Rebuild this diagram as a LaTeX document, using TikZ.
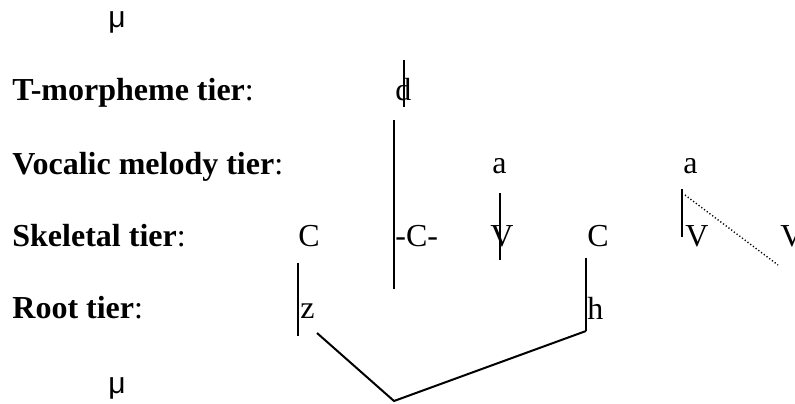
\documentclass[tikz,border=0pt]{standalone}
\usepackage{fontspec}
\setmainfont{Liberation Serif}
\newfontfamily\musans{Liberation Sans}
\usetikzlibrary{positioning}
\tikzset{
  tier/.style={anchor=base west, inner sep=0pt, font=\fontsize{16}{18}\selectfont},
  seg/.style={anchor=base west, inner sep=0pt, font=\fontsize{16}{18}\selectfont},
  mora/.style={anchor=base west, inner sep=0pt, font=\musans\fontsize{15}{18}\selectfont},
  assoc/.style={line width=1pt},
  spread/.style={line width=0.7pt, dash pattern=on 0.6pt off 1.1pt},
}

\begin{document}
\begin{tikzpicture}[x=0.5pt, y=-0.5pt]
\useasboundingbox (0,0) rectangle (795,403);

% ===================== TIER LABELS =====================
\node[mora] (mutop) at (108,27)  {μ};
\node[tier] (tmorph) at (12,100) {\textbf{T-morpheme tier}:};
\node[tier] (vocal)  at (12,174) {\textbf{Vocalic melody tier}:};
\node[tier] (skel)   at (12,246) {\textbf{Skeletal tier}:};
\node[tier] (root)   at (12,318) {\textbf{Root tier}:};
\node[mora] (mubot) at (108,393) {μ};

% ===================== SEGMENTS =====================
\node[seg] (d)  at (395,100) {d};
\node[seg] (a1) at (492,173) {a};
\node[seg] (a2) at (683,173) {a};

\node[seg] (c1) at (298,246) {C};
\node[seg] (c2) at (395,246) {-C-};
\node[seg] (v1) at (490,246) {V};
\node[seg] (c3) at (587,246) {C};
\node[seg] (v2) at (685,246) {V};
\node[seg] (v3) at (780,246) {V};

\node[seg] (z) at (300,318) {z};
\node[seg] (h) at (587,319) {h};

% ===================== ASSOCIATION LINES =====================
\coordinate (dtop) at (404,60);   \coordinate (dbot) at (404,107);
\coordinate (ctop) at (394,120);  \coordinate (cbot) at (394,289);
\coordinate (vtop) at (500,193);  \coordinate (vbot) at (500,260);
\coordinate (ztop) at (298,263);  \coordinate (zbot) at (298,336);
\coordinate (htop) at (586,258);  \coordinate (hbot) at (586,331);
\coordinate (wtop) at (682,189);  \coordinate (wbot) at (682,237);
\coordinate (zend) at (317,333);  \coordinate (apex) at (394,401);
\coordinate (sprA) at (685,195);  \coordinate (sprB) at (778,265);

\draw[assoc] (dtop) -- (dbot);
\draw[assoc] (ctop) -- (cbot);
\draw[assoc] (vtop) -- (vbot);
\draw[assoc] (ztop) -- (zbot);
\draw[assoc] (htop) -- (hbot);
\draw[assoc] (wtop) -- (wbot);
\draw[assoc] (zend) -- (apex) -- (hbot);
\draw[spread] (sprA) -- (sprB);

\end{tikzpicture}
\end{document}
